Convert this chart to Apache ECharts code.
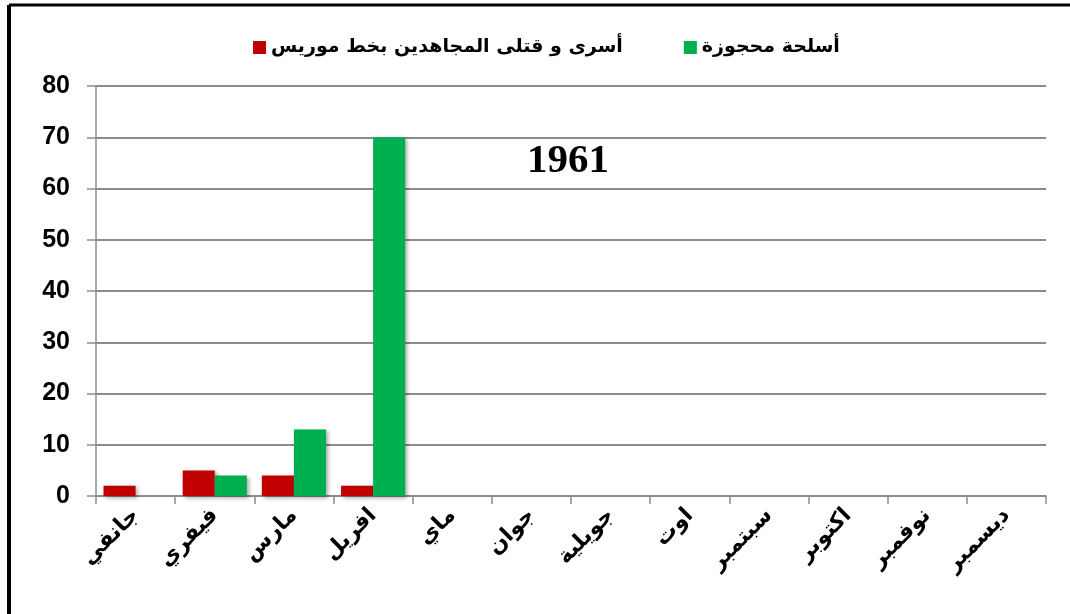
<!DOCTYPE html>
<html>
<head>
<meta charset="utf-8">
<script src="https://cdn.jsdelivr.net/npm/echarts@6/dist/echarts.min.js"></script>
<style>
html,body{margin:0;padding:0;background:#fff;}
#chart{width:1070px;height:614px;}
</style>
</head>
<body>
<div id="chart"></div>
<script>
var categories = ['جانفي','فيفري','مارس','افريل','ماي','جوان','جويلية','اوت','سبتمبر','اكتوبر','نوفمبر','ديسمبر'];
var seriesNames = ['أسرى و قتلى المجاهدين بخط موريس', 'أسلحة محجوزة'];
var prisonersKilled = [2, 5, 4, 2, null, null, null, null, null, null, null, null];
var weaponsSeized = [null, 4, 13, 70, null, null, null, null, null, null, null, null];
var yearLabel = '1961';

var chart = echarts.init(document.getElementById('chart'), null, {renderer: 'canvas'});
var shadow = {shadowBlur: 4, shadowColor: 'rgba(0,0,0,0.35)', shadowOffsetX: 2, shadowOffsetY: 2};
chart.setOption({
  animation: false,
  backgroundColor: '#fff',
  legend: {
    data: seriesNames,
    top: 33,
    left: 248,
    itemWidth: 13,
    itemHeight: 13,
    itemGap: 61,
    icon: 'rect',
    textStyle: {fontFamily: 'DejaVu Sans', fontWeight: 'bold', fontSize: 19, color: '#000'}
  },
  grid: {left: 96, right: 24, top: 86, bottom: 118, containLabel: false},
  xAxis: {
    type: 'category',
    data: categories,
    axisLine: {lineStyle: {color: '#8c8c8c', width: 1.5}},
    axisTick: {show: true, length: 8, lineStyle: {color: '#8c8c8c', width: 1.5}},
    axisLabel: {rotate: 45, interval: 0, margin: 16, color: '#000', fontFamily: 'DejaVu Sans', fontWeight: 'bold', fontSize: 22}
  },
  yAxis: {
    type: 'value',
    min: 0, max: 80, interval: 10,
    axisLine: {show: true, lineStyle: {color: '#8c8c8c', width: 1.5}},
    axisTick: {show: true, length: 9, lineStyle: {color: '#8c8c8c', width: 1.5}},
    axisLabel: {margin: 26, color: '#000', fontFamily: 'Liberation Sans', fontWeight: 'bold', fontSize: 25},
    splitLine: {lineStyle: {color: '#8c8c8c', width: 1.8}}
  },
  series: [
    {name: seriesNames[0], type: 'bar', data: prisonersKilled, barGap: '0%', barCategoryGap: '19%',
     itemStyle: Object.assign({color: '#C00000'}, shadow)},
    {name: seriesNames[1], type: 'bar', data: weaponsSeized, barGap: '0%', barCategoryGap: '19%',
     itemStyle: Object.assign({color: '#00B050'}, shadow)}
  ],
  graphic: [
    {type: 'line', silent: true, z: 100, shape: {x1: 9, y1: 5, x2: 1070, y2: 5},
     style: {stroke: '#000', lineWidth: 3}},
    {type: 'line', silent: true, z: 100, shape: {x1: 9, y1: 5, x2: 9, y2: 614},
     style: {stroke: '#000', lineWidth: 4}},
    {type: 'text', silent: true, z: 100, x: 568, y: 161,
     style: {text: yearLabel, font: 'bold 41px "Liberation Serif"', fill: '#000', textAlign: 'center', textVerticalAlign: 'middle'}}
  ]
});
</script>
</body>
</html>
